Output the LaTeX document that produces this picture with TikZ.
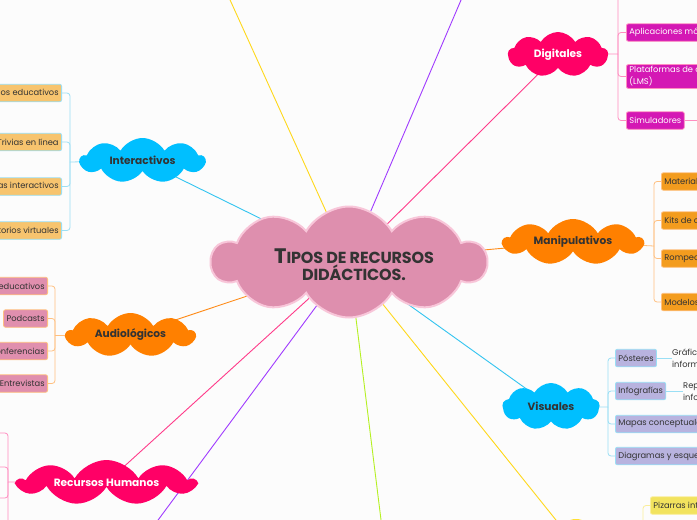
\documentclass[tikz,border=0pt]{standalone}
\usepackage{fontspec}
\setmainfont{Poppins}
\usetikzlibrary{shapes.symbols}
\pgfdeclarelayer{back}
\pgfdeclarelayer{lines}
\pgfsetlayers{back,lines,main}
\definecolor{bgc}{HTML}{FCFCFC}
\definecolor{txt}{HTML}{333333}
\definecolor{cpink}{HTML}{DE8FAE}
\definecolor{cpinkb}{HTML}{F8C6D9}
\definecolor{cyanC}{HTML}{00BFFF}
\definecolor{orangeC}{HTML}{FF8000}
\definecolor{hotC}{HTML}{FF0066}
\definecolor{yelC}{HTML}{FFE033}
\definecolor{lnCyan}{HTML}{33C4F0}
\definecolor{lnOrange}{HTML}{FF8C1A}
\definecolor{lnPink}{HTML}{FF3B8A}
\definecolor{lnPurple}{HTML}{A03BFF}
\definecolor{lnYellow}{HTML}{FFD81A}
\definecolor{lnLime}{HTML}{B5F022}
\definecolor{brCyan}{HTML}{9ADFF5}
\definecolor{brOrange}{HTML}{FFC080}
\definecolor{brPink}{HTML}{FF8DC0}
\definecolor{brYellow}{HTML}{FAEE9A}
\definecolor{lfA}{HTML}{F7C46E}
\definecolor{lfPink}{HTML}{E08FAE}
\definecolor{lfMag}{HTML}{D418B4}
\definecolor{lfOr}{HTML}{F39C1E}
\definecolor{lfLav}{HTML}{B8B3DF}
\definecolor{lfYel}{HTML}{F2E35E}
\tikzset{
  cl/.style={cloud, cloud puffs=9, cloud puff arc=120, cloud ignores aspect,
    inner sep=0pt, draw=none, text=txt,
    font=\bfseries\fontsize{10.6}{12}\selectfont},
  leaf/.style={rounded corners=2pt, inner xsep=3pt, inner ysep=2pt, minimum height=17.5pt,
    text=txt, line width=0.8pt, font=\fontsize{8.3}{12}\selectfont, align=left},
  mainln/.style={line width=0.9pt},
  brln/.style={line width=0.8pt, rounded corners=3pt},
  desc/.style={inner sep=0pt, text=txt, font=\fontsize{8.3}{12}\selectfont, align=left}
}
\begin{document}
\begin{tikzpicture}[x=1pt,y=-1pt]
\useasboundingbox (0,0) rectangle (697,520);
\clip (0,0) rectangle (697,520);
\begin{pgfonlayer}{back}
\fill[bgc] (0,0) rectangle (697,520);
\end{pgfonlayer}

% central cloud
\node[cloud, cloud puffs=10, cloud puff arc=120, cloud ignores aspect, fill=cpink, draw=cpinkb,
  line width=2pt, minimum width=275pt, minimum height=111pt, inner sep=0pt] (c) at (349,262) {};
\node[text=txt, align=center, font=\bfseries\addfontfeatures{LetterSpace=-1}] (title) at (354,265)
  {{\fontsize{21}{27}\selectfont T}{\fontsize{16}{27}\selectfont IPOS DE RECURSOS}\\{\fontsize{16}{27}\selectfont DIDÁCTICOS.}};

% branch clouds
\node[cl, fill=cyanC, minimum width=125pt, minimum height=45pt] (inter) at (142.5,160.5) {Interactivos};
\node[cl, fill=orangeC, minimum width=129pt, minimum height=44pt] (audio) at (130.5,335) {Audiológicos};
\node[cl, fill=hotC, text=white, minimum width=177pt, minimum height=45pt] (rh) at (106.5,482.5) {Recursos Humanos};
\node[cl, fill=hotC, text=white, minimum width=100pt, minimum height=45pt] (dig) at (558,54.5) {Digitales};
\node[cl, fill=orangeC, minimum width=140pt, minimum height=46pt] (manip) at (573,242) {Manipulativos};
\node[cl, fill=cyanC, minimum width=97pt, minimum height=47pt] (vis) at (551,406.5) {Visuales};
\node[cl, fill=yelC, minimum width=110pt, minimum height=52pt] (yb) at (576,545) {};

% off-page branch ends
\coordinate (ytop) at (221,-20);
\coordinate (ptop) at (469.6,-20);
\coordinate (pbot) at (143.3,540);
\coordinate (lbot) at (383.5,540);

% leaves: Interactivos
\node[leaf, fill=lfA, draw=brCyan, anchor=east] (i1) at (62,93) {Juegos educativos};
\node[leaf, fill=lfA, draw=brCyan, anchor=east] (i2) at (62,142) {Trivias en línea};
\node[leaf, fill=lfA, draw=brCyan, anchor=east] (i3) at (62,186.5) {Mapas interactivos};
\node[leaf, fill=lfA, draw=brCyan, anchor=east] (i4) at (62,230.5) {Laboratorios virtuales};
\coordinate (ij) at (70,162);

% leaves: Audiologicos
\node[leaf, fill=lfPink, draw=brOrange, anchor=east] (a1) at (48,286) {Audios educativos};
\node[leaf, fill=lfPink, draw=brOrange, anchor=east] (a2) at (48,318.5) {Podcasts};
\node[leaf, fill=lfPink, draw=brOrange, anchor=east] (a3) at (48,351) {Conferencias};
\node[leaf, fill=lfPink, draw=brOrange, anchor=east] (a4) at (48,383.5) {Entrevistas};
\coordinate (aj) at (55,335);

% Recursos humanos (leaves off page)
\coordinate (rj) at (8,482);
\coordinate (r1) at (-4,433);
\coordinate (r2) at (-4,467);
\coordinate (r3) at (-4,498);
\coordinate (r4) at (-4,545);

% Digitales
\coordinate (d0) at (626,-14);
\node[leaf, fill=lfMag, draw=brPink, text=white, anchor=west] (d1) at (626,32.5) {Aplicaciones móviles};
\node[leaf, fill=lfMag, draw=brPink, text=white, anchor=west] (d2) at (626,76.5) {Plataformas de aprendizaje\\(LMS)};
\node[leaf, fill=lfMag, draw=brPink, text=white, anchor=west] (d3) at (626,120.5) {Simuladores};
\coordinate (dj) at (618,54);
\coordinate (d3x) at (705,120.5);

% Manipulativos
\node[leaf, fill=lfOr, draw=brOrange, anchor=west] (m1) at (661,181.5) {Materiales concretos};
\node[leaf, fill=lfOr, draw=brOrange, anchor=west] (m2) at (661,220.5) {Kits de ciencias};
\node[leaf, fill=lfOr, draw=brOrange, anchor=west] (m3) at (661,258.5) {Rompecabezas};
\node[leaf, fill=lfOr, draw=brOrange, anchor=west] (m4) at (661,302) {Modelos a escala};
\coordinate (mj) at (654,246);

% Visuales
\node[leaf, fill=lfLav, draw=brCyan, anchor=west] (v1) at (615,358) {Pósteres};
\node[leaf, fill=lfLav, draw=brCyan, anchor=west] (v2) at (615,391) {Infografías};
\node[leaf, fill=lfLav, draw=brCyan, anchor=west] (v3) at (615,424) {Mapas conceptuales};
\node[leaf, fill=lfLav, draw=brCyan, anchor=west] (v4) at (615,456) {Diagramas y esquemas};
\coordinate (vj) at (608,407);
\node[desc, anchor=west] (v1d) at (672,358) {Gráficos con\\información};
\node[desc, anchor=west] (v2d) at (683,391) {Representación\\informativa};

% Pizarras
\node[leaf, fill=lfYel, draw=brYellow, anchor=west] (y1) at (650,505.5) {Pizarras interactivas};
\coordinate (yj) at (643,548);

\begin{pgfonlayer}{lines}
\draw[mainln, lnCyan] (c.center) -- (inter.center);
\draw[mainln, lnOrange] (c.center) -- (audio.center);
\draw[mainln, lnPink] (c.center) -- (rh.center);
\draw[mainln, lnPurple] (c.center) -- (pbot);
\draw[mainln, lnLime] (c.center) -- (lbot);
\draw[mainln, lnYellow] (c.center) -- (yb.center);
\draw[mainln, lnCyan] (c.center) -- (vis.center);
\draw[mainln, lnOrange] (c.center) -- (manip.center);
\draw[mainln, lnPink] (c.center) -- (dig.center);
\draw[mainln, lnPurple] (c.center) -- (ptop);
\draw[mainln, lnYellow] (c.center) -- (ytop);
% brackets
\draw[brln, brCyan] (inter.center) -- (ij);
\foreach \n in {i1,i2,i3,i4} \draw[brln, brCyan] (ij) |- (\n.east);
\draw[brln, brOrange] (audio.center) -- (aj);
\foreach \n in {a1,a2,a3,a4} \draw[brln, brOrange] (aj) |- (\n.east);
\draw[brln, brPink] (rh.center) -- (rj);
\foreach \n in {r1,r2,r3,r4} \draw[brln, brPink] (rj) |- (\n);
\draw[brln, brPink] (dig.center) -- (dj);
\draw[brln, brPink] (dj) |- (d0);
\foreach \n in {d1,d2,d3} \draw[brln, brPink] (dj) |- (\n.west);
\draw[brln, brPink] (d3.east) -- (d3x);
\draw[brln, brOrange] (manip.center) -- (mj);
\foreach \n in {m1,m2,m3,m4} \draw[brln, brOrange] (mj) |- (\n.west);
\draw[brln, brCyan] (vis.center) -- (vj);
\foreach \n in {v1,v2,v3,v4} \draw[brln, brCyan] (vj) |- (\n.west);
\draw[brln, brCyan] (v1.east) -- (v1d.west);
\draw[brln, brCyan] (v2.east) -- (v2d.west);
\draw[brln, brYellow] (yb.center) -- (yj);
\draw[brln, brYellow] (yj) |- (y1.west);
\end{pgfonlayer}
\end{tikzpicture}
\end{document}
